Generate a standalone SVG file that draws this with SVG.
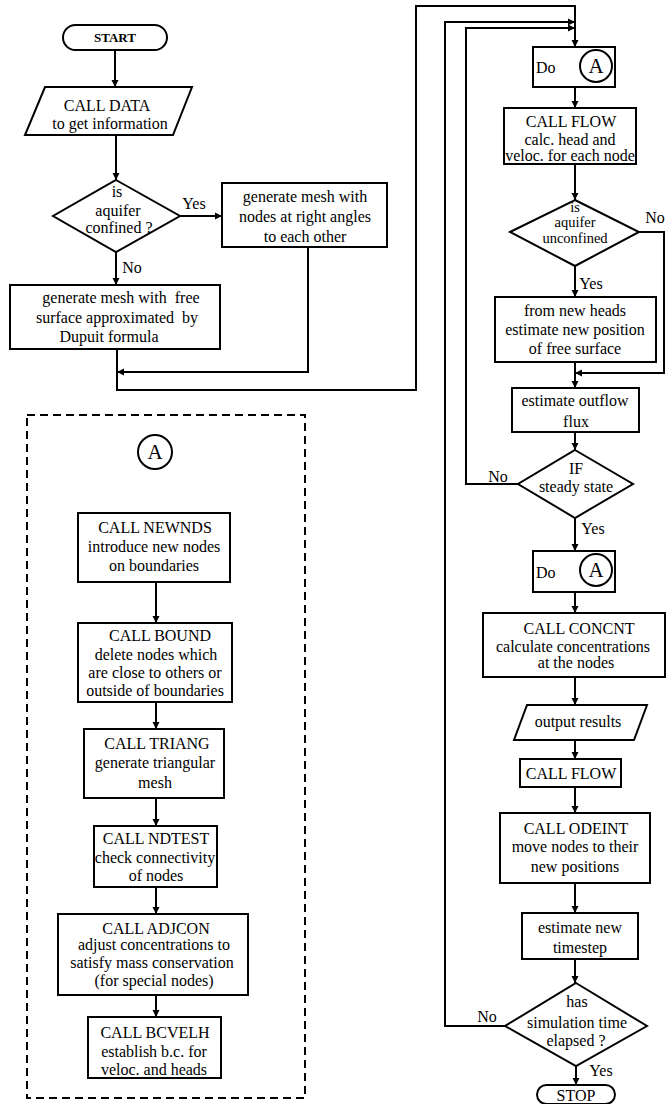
<svg xmlns="http://www.w3.org/2000/svg" width="666" height="1104" viewBox="0 0 666 1104">
<style>
.s{fill:#fff;stroke:#000;stroke-width:2}
.c{fill:none;stroke:#000;stroke-width:2}
text{font-family:"Liberation Serif","Times New Roman",serif;font-size:16px;fill:#000;text-anchor:middle}
.b{font-weight:bold;font-size:13px}
.a{font-size:21px}
.l{text-anchor:start}
.d{font-size:14.5px}
</style>
<defs>
<marker id="ar" markerUnits="userSpaceOnUse" markerWidth="8" markerHeight="8" refX="7" refY="4" orient="auto">
<path d="M0,0.5 L7,4 L0,7.5 z" fill="#000"/>
</marker>
</defs>
<rect width="666" height="1104" fill="#fff"/>

<g id="connectors">
<path class="c" d="M115,50 V87" marker-end="url(#ar)"/>
<path class="c" d="M116,135 V180" marker-end="url(#ar)"/>
<path class="c" d="M180,216 H222" marker-end="url(#ar)"/>
<path class="c" d="M116,252 V285" marker-end="url(#ar)"/>
<path class="c" d="M308,247 V372 H117" marker-end="url(#ar)"/>
<path class="c" d="M117,350 V390 H416 V6 H575 V47" marker-end="url(#ar)"/>
<path class="c" d="M518,484 H466 V28 H575" marker-end="url(#ar)"/>
<path class="c" d="M505,1026 H445 V22 H575" marker-end="url(#ar)"/>
<path class="c" d="M575,87 V108" marker-end="url(#ar)"/>
<path class="c" d="M575,164 V200" marker-end="url(#ar)"/>
<path class="c" d="M575,266 V297" marker-end="url(#ar)"/>
<path class="c" d="M639,232 H664 V373 H575" marker-end="url(#ar)"/>
<path class="c" d="M575,362 V388" marker-end="url(#ar)"/>
<path class="c" d="M575,432 V450" marker-end="url(#ar)"/>
<path class="c" d="M575,518 V551" marker-end="url(#ar)"/>
<path class="c" d="M575,592 V613" marker-end="url(#ar)"/>
<path class="c" d="M575,677 V705" marker-end="url(#ar)"/>
<path class="c" d="M575,740 V759" marker-end="url(#ar)"/>
<path class="c" d="M575,787 V813" marker-end="url(#ar)"/>
<path class="c" d="M575,883 V913" marker-end="url(#ar)"/>
<path class="c" d="M575,959 V983" marker-end="url(#ar)"/>
<path class="c" d="M576,1066 V1085" marker-end="url(#ar)"/>
<path class="c" d="M156,582 V623" marker-end="url(#ar)"/>
<path class="c" d="M156,702 V729" marker-end="url(#ar)"/>
<path class="c" d="M156,798 V826" marker-end="url(#ar)"/>
<path class="c" d="M156,887 V914" marker-end="url(#ar)"/>
<path class="c" d="M156,995 V1017" marker-end="url(#ar)"/>
<text x="194" y="209">Yes</text>
<text x="132" y="273">No</text>
<text x="655" y="223">No</text>
<text x="591" y="289">Yes</text>
<text x="498" y="482">No</text>
<text x="593" y="534">Yes</text>
<text x="487" y="1022">No</text>
<text x="601" y="1076">Yes</text>
</g>

<g id="start">
<rect class="s" x="63" y="25" width="104" height="25" rx="12.5"/>
<text class="b" x="115" y="42">START</text>
</g>
<g id="calldata">
<polygon class="s" points="45,87 192,87 173,135 25,135"/>
<text x="107" y="111">CALL DATA</text>
<text x="110" y="129">to get information</text>
</g>
<g id="confined">
<polygon class="s" points="116,180 180,216 116,252 53,216"/>
<text x="117" y="197">is</text>
<text x="118" y="216">aquifer</text>
<text x="119" y="233">confined ?</text>
</g>
<g id="rightangles">
<rect class="s" x="222" y="183" width="165" height="64"/>
<text x="305" y="202">generate mesh with</text>
<text x="305" y="222">nodes at right angles</text>
<text x="305" y="242">to each other</text>
</g>
<g id="dupuit">
<rect class="s" x="10" y="285" width="210" height="64"/>
<text x="121" y="303" xml:space="preserve">generate mesh with  free</text>
<text x="117" y="323" xml:space="preserve">surface approximated  by</text>
<text x="109" y="342">Dupuit formula</text>
</g>

<g id="do1">
<rect class="s" x="533" y="47" width="82" height="40"/>
<text class="l" x="536" y="73">Do</text>
<circle class="s" cx="596" cy="66" r="16"/>
<text class="a" x="596" y="73">A</text>
</g>
<g id="callflow1">
<rect class="s" x="504" y="108" width="132" height="56"/>
<text x="571" y="127">CALL FLOW</text>
<text x="570" y="145">calc. head and</text>
<text x="570" y="161">veloc. for each node</text>
</g>
<g id="unconfined">
<polygon class="s" points="575,200 639,232 575,266 510,232"/>
<text class="d" x="575" y="212">is</text>
<text class="d" x="575" y="227">aquifer</text>
<text class="d" x="575" y="243">unconfined</text>
</g>
<g id="newheads">
<rect class="s" x="495" y="297" width="161" height="65"/>
<text x="575" y="316">from new heads</text>
<text x="575" y="335">estimate new position</text>
<text x="575" y="354">of free surface</text>
</g>
<g id="outflow">
<rect class="s" x="512" y="388" width="127" height="44"/>
<text x="575" y="406">estimate outflow</text>
<text x="576" y="427">flux</text>
</g>
<g id="steady">
<polygon class="s" points="575,450 633,484 575,518 518,484"/>
<text x="576" y="474">IF</text>
<text x="576" y="492">steady state</text>
</g>
<g id="do2">
<rect class="s" x="533" y="551" width="82" height="41"/>
<text class="l" x="536" y="578">Do</text>
<circle class="s" cx="596" cy="570" r="16"/>
<text class="a" x="596" y="577">A</text>
</g>
<g id="concnt">
<rect class="s" x="483" y="613" width="182" height="64"/>
<text x="579" y="634">CALL CONCNT</text>
<text x="573" y="652">calculate concentrations</text>
<text x="576" y="668">at the nodes</text>
</g>
<g id="output">
<polygon class="s" points="527,705 647,705 634,740 514,740"/>
<text x="578" y="727">output results</text>
</g>
<g id="callflow2">
<rect class="s" x="520" y="759" width="101" height="28"/>
<text x="571" y="779">CALL FLOW</text>
</g>
<g id="odeint">
<rect class="s" x="500" y="813" width="150" height="70"/>
<text x="576" y="834">CALL ODEINT</text>
<text x="575" y="852">move nodes to their</text>
<text x="575" y="872">new positions</text>
</g>
<g id="timestep">
<rect class="s" x="522" y="913" width="116" height="46"/>
<text x="580" y="933">estimate new</text>
<text x="580" y="953">timestep</text>
</g>
<g id="elapsed">
<polygon class="s" points="576,983 647,1026 576,1066 505,1026"/>
<text x="577" y="1007">has</text>
<text x="577" y="1028">simulation time</text>
<text x="576" y="1046">elapsed ?</text>
</g>
<g id="stop">
<rect class="s" x="537" y="1085" width="78" height="19" rx="9.5"/>
<text x="576" y="1101">STOP</text>
</g>

<g id="subroutineA">
<rect x="27" y="415" width="278" height="683" fill="none" stroke="#000" stroke-width="2" stroke-dasharray="8,5"/>
<circle class="s" cx="155" cy="452" r="17"/>
<text class="a" x="155" y="459">A</text>
</g>
<g id="newnds">
<rect class="s" x="78" y="513" width="152" height="69"/>
<text x="155" y="533">CALL NEWNDS</text>
<text x="154" y="552">introduce new nodes</text>
<text x="154" y="571">on boundaries</text>
</g>
<g id="bound">
<rect class="s" x="78" y="623" width="154" height="79"/>
<text x="160" y="641">CALL BOUND</text>
<text x="156" y="660">delete nodes which</text>
<text x="155" y="678">are close to others or</text>
<text x="155" y="696">outside of boundaries</text>
</g>
<g id="triang">
<rect class="s" x="84" y="729" width="140" height="69"/>
<text x="157" y="749">CALL TRIANG</text>
<text x="155" y="768">generate triangular</text>
<text x="155" y="788">mesh</text>
</g>
<g id="ndtest">
<rect class="s" x="94" y="826" width="123" height="61"/>
<text x="156" y="844">CALL NDTEST</text>
<text x="155" y="863">check connectivity</text>
<text x="156" y="881">of nodes</text>
</g>
<g id="adjcon">
<rect class="s" x="58" y="914" width="190" height="81"/>
<text x="156" y="934">CALL ADJCON</text>
<text x="154" y="950">adjust concentrations to</text>
<text x="152" y="968">satisfy mass conservation</text>
<text x="154" y="986">(for special nodes)</text>
</g>
<g id="bcvelh">
<rect class="s" x="88" y="1017" width="133" height="61"/>
<text x="155" y="1038">CALL BCVELH</text>
<text x="154" y="1057">establish b.c. for</text>
<text x="154" y="1075">veloc. and heads</text>
</g>
</svg>
